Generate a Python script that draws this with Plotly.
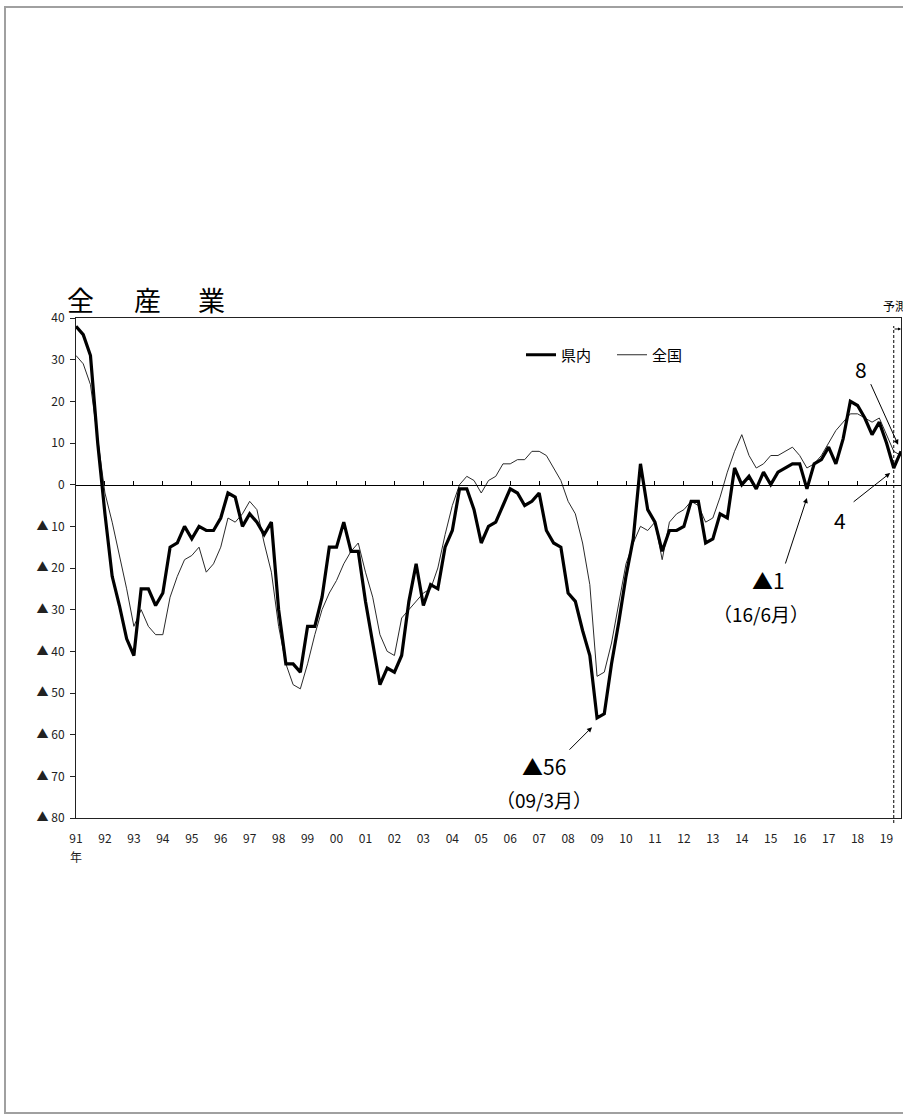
import plotly.graph_objects as go

# 県内 (prefecture) BSI, quarterly from 1991/3月 to 2019/9月 (last point = forecast)
kennai = [38, 36, 31, 10, -7, -22, -29, -37, -41, -25, -25, -29, -26, -15, -14, -10,
          -13, -10, -11, -11, -8, -2, -3, -10, -7, -9, -12, -9, -30, -43, -43, -45,
          -34, -34, -27, -15, -15, -9, -16, -16, -28, -38, -48, -44, -45, -41, -28, -19,
          -29, -24, -25, -15, -11, -1, -1, -6, -14, -10, -9, -5, -1, -2, -5, -4,
          -2, -11, -14, -15, -26, -28, -35, -41, -56, -55, -43, -33, -22, -13, 5, -6,
          -9, -16, -11, -11, -10, -4, -4, -14, -13, -7, -8, 4, 0, 2, -1, 3,
          0, 3, 4, 5, 5, -1, 5, 6, 9, 5, 11, 20, 19, 16, 12, 15,
          10, 4, 8]

# 全国 (national) BSI
zenkoku = [31, 29, 24, 11, -2, -9, -17, -25, -34, -30, -34, -36, -36, -27, -22, -18,
           -17, -15, -21, -19, -15, -8, -9, -7, -4, -6, -14, -21, -34, -43, -48, -49,
           -43, -36, -30, -26, -23, -19, -16, -14, -21, -27, -36, -40, -41, -32, -30, -28,
           -26, -25, -20, -12, -5, 0, 2, 1, -2, 1, 2, 5, 5, 6, 6, 8,
           8, 7, 4, 1, -4, -7, -14, -24, -46, -45, -38, -28, -19, -14, -10, -11,
           -9, -18, -9, -7, -6, -4, -5, -9, -8, -3, 3, 8, 12, 7, 4, 5,
           7, 7, 8, 9, 7, 4, 5, 7, 10, 13, 15, 17, 17, 16, 15, 16,
           12, 8, 7]

year_labels = ["91", "92", "93", "94", "95", "96", "97", "98", "99", "00",
               "01", "02", "03", "04", "05", "06", "07", "08", "09", "10",
               "11", "12", "13", "14", "15", "16", "17", "18", "19"]

y_tick_vals = [40, 30, 20, 10, 0, -10, -20, -30, -40, -50, -60, -70, -80]
y_tick_text = ["40", "30", "20", "10", "0", "▲ 10", "▲ 20", "▲ 30", "▲ 40",
               "▲ 50", "▲ 60", "▲ 70", "▲ 80"]

FONT = "Noto Sans CJK JP"
quarters = list(range(len(kennai)))
year_ticks = [i * 4 for i in range(len(year_labels))]
x_max = len(kennai) - 1
forecast_start = x_max - 1

fig = go.Figure()
fig.add_trace(go.Scatter(x=quarters, y=zenkoku, name="全国", mode="lines",
                         line=dict(color="#2a2a2a", width=1), legendrank=2,
                         xaxis="x", yaxis="y", hoverinfo="skip"))
fig.add_trace(go.Scatter(x=quarters, y=kennai, name="県内", mode="lines",
                         line=dict(color="black", width=3.2), legendrank=1,
                         xaxis="x2", yaxis="y", hoverinfo="skip"))

annotations = []
# title characters
for ch, px in zip(["全", "産", "業"], [80, 147, 211]):
    annotations.append(dict(text=ch, xref="paper", yref="paper", x=(px - 76) / 825,
                            y=(818 - 299) / 500, showarrow=False, xanchor="center",
                            yanchor="middle", font=dict(family=FONT, size=27, color="black")))
# 年
annotations.append(dict(text="年", xref="x", yref="paper", x=0, y=(818 - 846) / 500,
                        showarrow=False, xanchor="center", yanchor="top",
                        font=dict(family=FONT, size=12, color="#222")))
# 予測 label and arrow
annotations.append(dict(text="予測", xref="paper", yref="paper", x=(881 - 76) / 825,
                        y=(818 - 305) / 500, xanchor="left", yanchor="middle",
                        showarrow=False, font=dict(family=FONT, size=12, color="black")))
annotations.append(dict(text="", xref="x", yref="paper", x=x_max, y=(818 - 329) / 500,
                        ax=-8, ay=0, showarrow=True, arrowhead=2, arrowsize=0.6,
                        arrowwidth=1, arrowcolor="black", standoff=0))

def label(text, x, y, size):
    annotations.append(dict(text=text, xref="x", yref="y", x=x, y=y, showarrow=False,
                            xanchor="center", yanchor="middle",
                            font=dict(family=FONT, size=size, color="black")))

def arrow(x, y, ax, ay):
    annotations.append(dict(text="", xref="x", yref="y", x=x, y=y, ax=ax, ay=ay,
                            showarrow=True, arrowhead=2, arrowsize=1, arrowwidth=1,
                            arrowcolor="black", standoff=0))

label("▲56", 64.6, -67.4, 21)
label("（09/3月）", 64.6, -75.6, 19)
arrow(71.3, -58.2, -24, 24)
label("▲1", 95.7, -22.8, 21)
label("（16/6月）", 94.6, -31.0, 19)
arrow(101.0, -3.2, -22, 67)
label("8", 108.5, 27.8, 21)
arrow(113.6, 9.6, -28, -62)
label("4", 105.6, -8.4, 21)
arrow(112.5, 2.8, -38, 30)

shapes = [
    # forecast dashed line
    dict(type="line", xref="x", yref="paper", x0=forecast_start, x1=forecast_start,
         y0=-0.01, y1=(818 - 326) / 500, line=dict(color="black", width=1, dash="3px,2px")),
    # page border
    dict(type="rect", xref="paper", yref="paper", x0=(5 - 76) / 825, x1=1.05,
         y0=(818 - 1113) / 500, y1=(818 - 7) / 500, line=dict(color="#a0a0a0", width=2),
         layer="below"),
]

fig.update_layout(
    width=903, height=1120,
    margin=dict(l=76, r=2, t=318, b=302, pad=0),
    paper_bgcolor="white", plot_bgcolor="white",
    font=dict(family=FONT, color="#222"),
    showlegend=True,
    legend=dict(orientation="h", x=(521 - 76) / 825, y=(818 - 355) / 500,
                xanchor="left", yanchor="middle", bgcolor="rgba(0,0,0,0)",
                font=dict(family=FONT, size=15, color="black"),
                entrywidth=46, entrywidthmode="pixels", traceorder="normal"),
    xaxis=dict(range=[0, x_max], tickmode="array", tickvals=year_ticks, ticktext=year_labels,
               ticks="", showline=True, mirror=True, linecolor="#222", linewidth=1,
               showgrid=False, zeroline=False, automargin=False, ticklabelstandoff=10,
               tickfont=dict(family=FONT, size=12, color="#222")),
    xaxis2=dict(overlaying="x", matches="x", anchor="free", position=2 / 3, side="bottom",
                tickmode="array", tickvals=year_ticks[1:], ticks="inside", ticklen=4,
                tickcolor="black", showticklabels=False, showline=True, linecolor="black",
                linewidth=1, showgrid=False, zeroline=False, automargin=False),
    yaxis=dict(range=[-80, 40], tickmode="array", tickvals=y_tick_vals, ticktext=y_tick_text,
               ticks="outside", ticklen=5, tickcolor="#222", showline=True, mirror=True,
               linecolor="#222", linewidth=1, showgrid=False, zeroline=False,
               automargin=False, ticklabelstandoff=3,
               tickfont=dict(family=FONT, size=12, color="#222")),
    annotations=annotations,
    shapes=shapes,
)

fig.write_html("out.html", config={"displayModeBar": False},
               post_script="document.body.style.margin='0px';document.body.style.overflow='hidden';")
